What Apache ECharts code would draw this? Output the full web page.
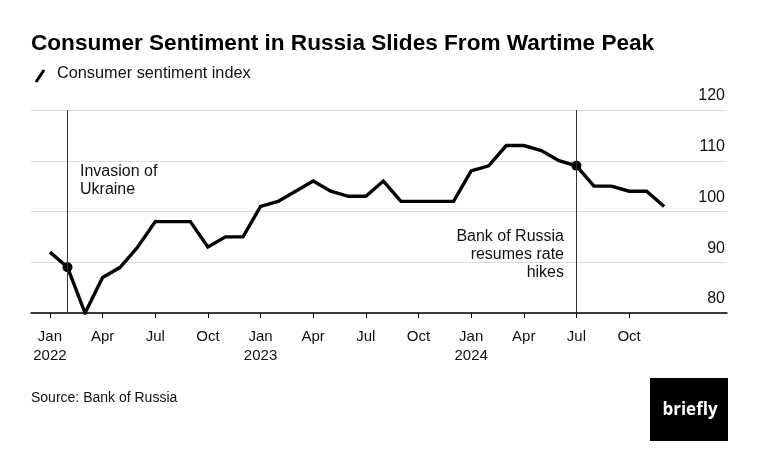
<!DOCTYPE html>
<html>
<head>
<meta charset="utf-8">
<script src="https://cdn.jsdelivr.net/npm/echarts@6/dist/echarts.min.js"></script>
<style>
html,body{margin:0;padding:0;background:#fff;}
#chart{width:764px;height:468px;}
</style>
</head>
<body>
<div id="chart"></div>
<script>
// Months Jan 2022 .. Dec 2024
const months = ['Jan','Feb','Mar','Apr','May','Jun','Jul','Aug','Sep','Oct','Nov','Dec'];
const years = [2022, 2023, 2024];
const sentiment = [
  92, 89, 80, 87, 89, 93, 98, 98, 98, 93, 95, 95,
  101, 102, 104, 106, 104, 103, 103, 106, 102, 102, 102, 102,
  108, 109, 113, 113, 112, 110, 109, 105, 105, 104, 104, 101
];
const yTicks = [80, 90, 100, 110, 120];
const tickMonths = [0, 3, 6, 9, 12, 15, 18, 21, 24, 27, 30, 33];
const events = [
  { index: 1, label: 'Invasion of\nUkraine' },
  { index: 30, label: 'Bank of Russia\nresumes rate\nhikes' }
];

const FONT_R = '"Liberation Sans", Arial, sans-serif';

const lineData = sentiment.map((v, i) => [i, v]);
const dotData = events.map(e => [e.index, sentiment[e.index]]);

function monthLabel(v) {
  const i = Math.round(v);
  const m = months[i % 12];
  const y = years[Math.floor(i / 12)];
  return (i % 12 === 0) ? m + '\n' + y : m;
}

const chart = echarts.init(document.getElementById('chart'), null, { renderer: 'canvas' });
chart.setOption({
  animation: false,
  backgroundColor: '#ffffff',
  grid: { left: 31, right: 37, top: 110, bottom: 155, containLabel: false },
  xAxis: {
    type: 'value',
    min: -1.08,
    max: 38.58,
    axisLine: { show: true, lineStyle: { color: '#000', width: 1.5 } },
    axisTick: { show: true, length: 5, lineStyle: { color: '#000', width: 1 }, customValues: tickMonths },
    axisLabel: {
      customValues: tickMonths,
      formatter: monthLabel,
      color: '#111',
      fontFamily: FONT_R,
      fontSize: 15,
      lineHeight: 19,
      margin: 14,
      align: 'center'
    },
    splitLine: { show: false }
  },
  yAxis: {
    type: 'value',
    position: 'right',
    min: 80,
    max: 120,
    interval: 10,
    axisLine: { show: false },
    axisTick: { show: false },
    axisLabel: {
      inside: true,
      margin: 2,
      color: '#111',
      fontFamily: FONT_R,
      fontSize: 16,
      verticalAlign: 'bottom',
      padding: [0, 0, 6, 0],
      formatter: v => yTicks.includes(v) ? String(v) : ''
    },
    splitLine: { show: true, lineStyle: { color: '#dcdcdc', width: 1 } }
  },
  series: [
    {
      type: 'line',
      data: lineData,
      symbol: 'none',
      lineStyle: { color: '#000', width: 3.4, join: 'miter' },
      z: 3,
      markLine: {
        silent: true,
        symbol: 'none',
        lineStyle: { color: '#333', width: 1, type: 'solid' },
        label: { show: false },
        data: events.map(e => ({ xAxis: e.index }))
      }
    },
    {
      type: 'scatter',
      data: dotData,
      symbol: 'circle',
      symbolSize: 10,
      itemStyle: { color: '#000', opacity: 1 },
      z: 4
    }
  ],
  graphic: [
    { type: 'text', left: 31, top: 32, style: { text: 'Consumer Sentiment in Russia Slides From Wartime Peak', fontFamily: FONT_R, fontWeight: 'bold', fontSize: 22.6, fill: '#000' } },
    { type: 'line', shape: { x1: 36, y1: 82, x2: 44, y2: 70 }, style: { stroke: '#000', lineWidth: 3 } },
    { type: 'text', left: 57, top: 66, style: { text: 'Consumer sentiment index', fontFamily: FONT_R, fontSize: 16.3, fill: '#111' } },
    { type: 'text', left: 80, top: 163, style: { text: events[0].label, fontFamily: FONT_R, fontSize: 16, lineHeight: 18, fill: '#111' } },
    { type: 'text', x: 564, y: 228, style: { text: events[1].label, fontFamily: FONT_R, fontSize: 16, lineHeight: 18, align: 'right', verticalAlign: 'top', fill: '#111' } },
    { type: 'text', left: 31, top: 391, style: { text: 'Source: Bank of Russia', fontFamily: FONT_R, fontSize: 14, fill: '#111' } },
    { type: 'rect', shape: { x: 650, y: 378, width: 78, height: 63 }, style: { fill: '#000' } },
    { type: 'text', x: 690, y: 410, style: { text: 'briefly', fontFamily: '"Open Sans", "Liberation Sans", sans-serif', fontWeight: 'bold', fontSize: 17, align: 'center', verticalAlign: 'middle', fill: '#fff' } }
  ]
});
</script>
</body>
</html>
